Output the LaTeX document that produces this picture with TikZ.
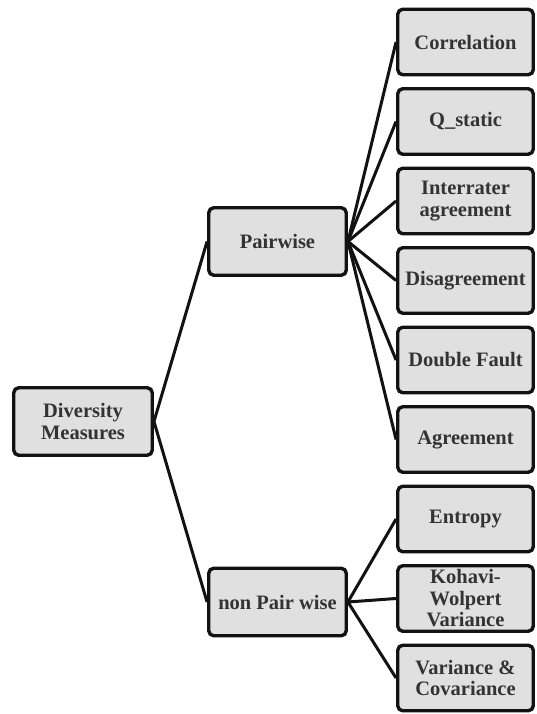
\documentclass[tikz,border=0pt]{standalone}
\usepackage{fontspec}
\setmainfont{LiberationSerif}[Extension=.ttf, UprightFont=*-Regular, BoldFont=*-Bold]
\begin{document}
\begin{tikzpicture}[x=1pt,y=-1pt,
  box/.style={draw=black!93, line width=3.4pt, rounded corners=5pt,
    fill=black!12, inner sep=0pt, align=center,
    text=black!80, font=\fontsize{20.5}{21.5}\selectfont\bfseries},
  midbox/.style={box, minimum width=137.5pt, minimum height=67.5pt},
  leafbox/.style={box, minimum width=135.5pt, minimum height=65.5pt},
  link/.style={draw=black!93, line width=3pt}]
\useasboundingbox (0,0) rectangle (536,714);

% root and the two groups
\node[box, minimum width=138.5pt, minimum height=67.5pt] (root) at (83,421.5) {Diversity\\Measures};
\node[midbox] (pw)  at (277.5,241.5) {Pairwise};
\node[midbox] (npw) at (277.5,602) {non Pair wise};

% pairwise measures
\node[leafbox] (corr) at (465.5,42)    {Correlation};
\node[leafbox] (qst)  at (465.5,121.5) {Q\_static};
\node[leafbox] (intr) at (465.5,201)   {Interrater\\agreement};
\node[leafbox] (dis)  at (465.5,280.5) {Disagreement};
\node[leafbox] (dbf)  at (465.5,360)   {Double Fault};
\node[leafbox] (agr)  at (465.5,439.5) {Agreement};

% non pairwise measures
\node[leafbox] (ent)  at (465.5,519)   {Entropy};
\node[leafbox] (kw)   at (465.5,598.5) {Kohavi-\\Wolpert\\Variance};
\node[leafbox] (vc)   at (465.5,678)   {Variance \&\\Covariance};

% connectors
\draw[link] (root.east) -- (pw.west);
\draw[link] (root.east) -- (npw.west);
\foreach \t in {corr,qst,intr,dis,dbf,agr}
  \draw[link] (pw.east) -- (\t.west);
\foreach \t in {ent,kw,vc}
  \draw[link] (npw.east) -- (\t.west);
\end{tikzpicture}
\end{document}
